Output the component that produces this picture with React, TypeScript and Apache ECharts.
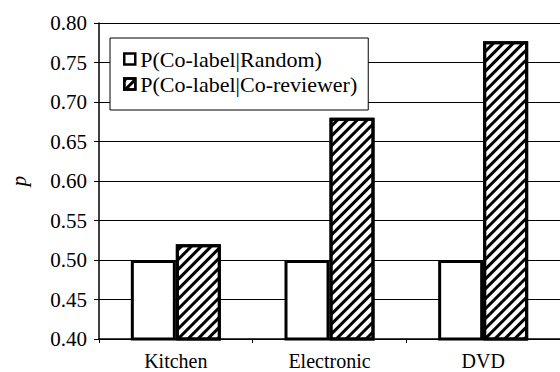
import React, { useEffect, useRef } from "react";
import * as echarts from "echarts";

const categories = ["Kitchen", "Electronic", "DVD"];
const seriesNames = ["P(Co-label|Random)", "P(Co-label|Co-reviewer)"];
const randomValues = [0.5, 0.5, 0.5];
const coReviewerValues = [0.52, 0.68, 0.777];
const yMin = 0.4;
const yMax = 0.8;
const yStep = 0.05;

const FONT = "Liberation Serif";

export default function App() {
  const ref = useRef<HTMLDivElement>(null);
  useEffect(() => {
    if (!ref.current) return;
    const chart = echarts.init(ref.current, null, { renderer: "svg" });
    const hatch = {
      symbol: "rect",
      symbolSize: 1,
      color: "#000",
      dashArrayX: [1, 0],
      dashArrayY: [3, 4],
      rotation: -Math.PI / 4,
    };
    chart.setOption({
      animation: false,
      backgroundColor: "#fff",
      textStyle: { fontFamily: FONT },
      grid: { left: 90, right: -1, top: 23, bottom: 33, containLabel: false },
      legend: {
        data: seriesNames,
        orient: "vertical",
        left: 110,
        top: 38,
        icon: "rect",
        itemWidth: 11,
        itemHeight: 11,
        itemGap: 3,
        padding: [10, 11, 15, 13],
        backgroundColor: "#fff",
        borderColor: "#000",
        borderWidth: 1,
        borderRadius: 0,
        itemStyle: { borderWidth: 2.5, borderColor: "#000" },
        textStyle: { fontFamily: FONT, fontSize: 22, color: "#000" },
        z: 10,
      },
      xAxis: {
        type: "category",
        data: categories,
        boundaryGap: true,
        axisLine: { lineStyle: { color: "#000", width: 1.5 } },
        axisTick: { show: true, length: 4, alignWithLabel: false, lineStyle: { color: "#000" } },
        axisLabel: { fontFamily: FONT, fontSize: 20, color: "#000", margin: 12 },
        splitLine: { show: false },
      },
      yAxis: {
        type: "value",
        min: yMin,
        max: yMax,
        interval: yStep,
        name: "p",
        nameLocation: "middle",
        nameGap: 70,
        nameRotate: 90,
        nameTextStyle: { fontFamily: FONT, fontSize: 21, fontStyle: "italic", color: "#000" },
        axisLine: { show: true, lineStyle: { color: "#000", width: 1.5 } },
        axisTick: { show: true, length: 5, inside: false, lineStyle: { color: "#000" } },
        axisLabel: {
          fontFamily: FONT,
          fontSize: 21,
          color: "#000",
          margin: 12,
          formatter: (v: number) => v.toFixed(2),
        },
        splitLine: { show: true, lineStyle: { color: "#000", width: 1 } },
      },
      series: [
        {
          name: seriesNames[0],
          type: "bar",
          data: randomValues,
          barWidth: 45,
          barGap: "0%",
          itemStyle: { color: "#fff", borderColor: "#000", borderWidth: 3 },
        },
        {
          name: seriesNames[1],
          type: "bar",
          data: coReviewerValues,
          barWidth: 45,
          barGap: "0%",
          itemStyle: { color: "#fff", borderColor: "#000", borderWidth: 3, decal: hatch },
        },
      ],
    });
    return () => chart.dispose();
  }, []);
  return (
    <div
      ref={ref}
      style={{ position: "fixed", left: 0, top: 0, width: 560, height: 372 }}
    />
  );
}
